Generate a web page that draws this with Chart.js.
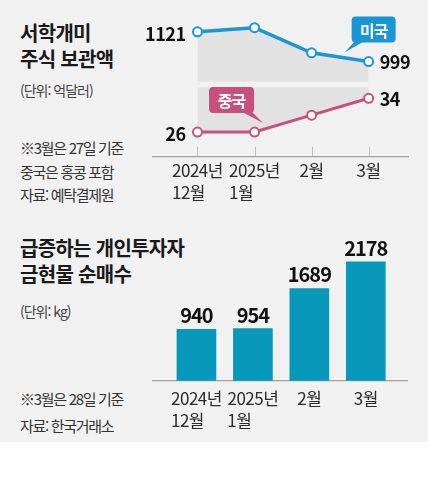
<!DOCTYPE html>
<html lang="ko">
<head>
<meta charset="utf-8">
<script src="https://cdn.jsdelivr.net/npm/chart.js@4.4.1/dist/chart.umd.min.js"></script>
<style>
    body { margin: 0; background: #fff; font-family: "Noto Sans CJK KR", sans-serif; }
    #wrap { position: relative; width: 428px; height: 478px; overflow: hidden; }
    .bg { position: absolute; left: 0; top: 0; width: 428px; height: 442px; background: #f1f1f1; }
    .txt { position: absolute; left: 20px; white-space: nowrap; color: #333; }
    .title { font-size: 20px; font-weight: 700; line-height: 26px; letter-spacing: -0.7px; color: #1a1a1a; }
    .unit { font-size: 14px; line-height: 18px; letter-spacing: -1px; color: #444; }
    .note { font-size: 15px; letter-spacing: -1.3px; color: #333; }
    .box { position: absolute; }
</style>
</head>
<body>
<div id="wrap">
    <div class="bg"></div>

    <div class="txt title" style="top:20px;">서학개미<br>주식 보관액</div>
    <div class="txt unit" style="top:81px;">(단위: 억달러)</div>
    <div class="txt note" style="top:136px; line-height:23.5px;">※3월은 27일 기준<br>중국은 홍콩 포함<br>자료: 예탁결제원</div>

    <div class="txt title" style="top:235px;">급증하는 개인투자자<br>금현물 순매수</div>
    <div class="txt unit" style="top:302px;">(단위: kg)</div>
    <div class="txt note" style="top:385px; line-height:27px;">※3월은 28일 기준<br>자료: 한국거래소</div>

    <div class="box" style="left:140px; top:0;"><canvas id="lineChart" width="288" height="220"></canvas></div>
    <div class="box" style="left:140px; top:212px;"><canvas id="barChart" width="288" height="230"></canvas></div>
</div>

<script>
// chart data
const months = [['2024년', '12월'], ['2025년', '1월'], ['2월'], ['3월']];
const usHoldings = [1121, 1138, 1035, 999];
const chinaHoldings = [26, 26, 30, 34];
const goldNetBuy = [940, 954, 1689, 2178];

const FONT = '"Noto Sans CJK KR", "Noto Sans", sans-serif';
const US_COLOR = '#1a96d4';
const CN_COLOR = '#c8507c';
const BAR_COLOR = '#0898b9';
const AXIS_COLOR = '#a2a2a2';
const TICK_SPACING = '-0.5px';

// pad the shorter line of a two-line label so both lines start at the same x
const measureCtx = document.createElement('canvas').getContext('2d');
function tickLabel(value) {
    const lines = months[value];
    if (!lines) return '';
    if (lines.length < 2) return lines[0];
    measureCtx.font = '17px ' + FONT;
    measureCtx.letterSpacing = TICK_SPACING;
    const w = Math.max(...lines.map(l => measureCtx.measureText(l).width));
    return lines.map(l => {
        let s = l;
        while (measureCtx.measureText(s + '\u200A').width <= w + 0.5) s += '\u200A';
        return s;
    });
}

function xScale(min, max, padding) {
    return {
        type: 'linear',
        min: min,
        max: max,
        offset: false,
        afterBuildTicks: function(scale) {
            scale.ticks = months.map((m, i) => ({ value: i }));
        },
        border: { display: true, color: AXIS_COLOR, width: 1.2 },
        grid: { display: true, offset: false, drawOnChartArea: false, drawTicks: false },
        ticks: {
            autoSkip: false,
            maxRotation: 0,
            padding: padding,
            color: '#2b2b2b',
            font: { family: FONT, size: 17, lineHeight: 1.3 },
            callback: value => tickLabel(value)
        }
    };
}

// slightly condensed axis text, like the newspaper font
const tightText = {
    id: 'tightText',
    beforeDraw(chart) {
        chart.ctx.letterSpacing = TICK_SPACING;
    }
};

// short tick marks standing up from the axis line
const upTicks = {
    id: 'upTicks',
    afterDraw(chart) {
        const ctx = chart.ctx;
        const x = chart.scales.x;
        const bottom = chart.chartArea.bottom;
        ctx.save();
        ctx.strokeStyle = '#bdbdbd';
        ctx.lineWidth = 1;
        x.ticks.forEach(t => {
            const px = Math.round(x.getPixelForValue(t.value)) + 0.5;
            ctx.beginPath();
            ctx.moveTo(px, bottom - 1);
            ctx.lineTo(px, bottom - 10);
            ctx.stroke();
        });
        ctx.restore();
    }
};

// first / last value next to each line
const endLabels = {
    id: 'endLabels',
    afterDatasetsDraw(chart) {
        const ctx = chart.ctx;
        ctx.save();
        ctx.font = 'bold 18px ' + FONT;
        ctx.letterSpacing = '-0.5px';
        ctx.fillStyle = '#111';
        ctx.textBaseline = 'middle';
        chart.data.datasets.forEach((ds, i) => {
            const pts = chart.getDatasetMeta(i).data;
            const first = pts[0];
            const last = pts[pts.length - 1];
            ctx.textAlign = 'right';
            ctx.fillText(ds.data[0].y, first.x - 12, first.y + 2);
            ctx.textAlign = 'left';
            ctx.fillText(ds.data[ds.data.length - 1].y, last.x + 11, last.y + 1);
        });
        ctx.restore();
    }
};

// speech-bubble legend boxes
function bubble(ctx, x, y, w, h, tipX, tipY, baseA, baseB, color, text) {
    ctx.fillStyle = color;
    ctx.beginPath();
    ctx.roundRect(x, y, w, h, 4);
    ctx.fill();
    ctx.beginPath();
    ctx.moveTo(baseA, y + h - 1);
    ctx.lineTo(tipX, tipY);
    ctx.lineTo(baseB, y + h - 1);
    ctx.closePath();
    ctx.fill();
    ctx.fillStyle = '#fff';
    ctx.font = 'bold 16px ' + FONT;
    ctx.letterSpacing = '-1px';
    ctx.textAlign = 'center';
    ctx.textBaseline = 'middle';
    ctx.fillText(text, x + w / 2, y + h / 2 + 1);
}

const callouts = {
    id: 'callouts',
    afterDatasetsDraw(chart) {
        const ctx = chart.ctx;
        ctx.save();
        const us = chart.getDatasetMeta(0).data;
        const p = us[us.length - 1];
        const ux = p.x - 17, uy = p.y - 45;
        bubble(ctx, ux, uy, 44, 26, p.x - 24, p.y - 9, ux + 3, ux + 12, US_COLOR, chart.data.datasets[0].label);
        const cn = chart.getDatasetMeta(1).data;
        const q = cn[1];
        const cx = q.x - 45.5, cy = q.y - 45;
        bubble(ctx, cx, cy, 45, 26, q.x + 8.5, q.y - 9, cx + 33, cx + 43, CN_COLOR, chart.data.datasets[1].label);
        ctx.restore();
    }
};

new Chart(document.getElementById('lineChart'), {
    type: 'line',
    data: {
        datasets: [{
            label: '미국',
            data: usHoldings.map((v, i) => ({ x: i, y: v })),
            yAxisID: 'yUS',
            borderColor: US_COLOR,
            borderWidth: 3.5,
            fill: { value: 917.6 },
            backgroundColor: '#e2e2e2',
            pointRadius: 4.5,
            pointBorderWidth: 2,
            pointBackgroundColor: '#fff',
            pointBorderColor: US_COLOR,
            tension: 0
        }, {
            label: '중국',
            data: chinaHoldings.map((v, i) => ({ x: i, y: v })),
            yAxisID: 'yCN',
            borderColor: CN_COLOR,
            borderWidth: 3,
            fill: { value: 36.6 },
            backgroundColor: '#e2e2e2',
            pointRadius: 4.5,
            pointBorderWidth: 2,
            pointBackgroundColor: '#fff',
            pointBorderColor: CN_COLOR,
            tension: 0
        }]
    },
    options: {
        responsive: false,
        animation: false,
        layout: { padding: { left: 13, right: 20, top: 10, bottom: 13 } },
        plugins: { legend: { display: false }, tooltip: { enabled: false } },
        scales: {
            x: xScale(-0.78, 3.69, 3),
            yUS: { display: false, min: 608.6, max: 1210.4 },
            yCN: { display: false, min: 20.12, max: 54.95 }
        }
    },
    plugins: [tightText, upTicks, endLabels, callouts]
});

// value on top of each bar
const barLabels = {
    id: 'barLabels',
    afterDatasetsDraw(chart) {
        const ctx = chart.ctx;
        const meta = chart.getDatasetMeta(0);
        ctx.save();
        ctx.font = 'bold 20px ' + FONT;
        ctx.letterSpacing = '-1px';
        ctx.fillStyle = '#111';
        ctx.textAlign = 'center';
        ctx.textBaseline = 'alphabetic';
        meta.data.forEach((bar, i) => {
            ctx.fillText(goldNetBuy[i], bar.x, bar.y - 6);
        });
        ctx.restore();
    }
};

new Chart(document.getElementById('barChart'), {
    type: 'bar',
    data: {
        datasets: [{
            label: '금현물 순매수',
            data: goldNetBuy.map((v, i) => ({ x: i, y: v })),
            backgroundColor: BAR_COLOR,
            barThickness: 39
        }]
    },
    options: {
        responsive: false,
        animation: false,
        layout: { padding: { left: 13, right: 21, top: 20, bottom: 3 } },
        plugins: { legend: { display: false }, tooltip: { enabled: false } },
        scales: {
            x: xScale(-0.77, 3.73, 7),
            y: { display: false, min: 0, max: 2722 }
        }
    },
    plugins: [tightText, barLabels]
});
</script>
</body>
</html>
